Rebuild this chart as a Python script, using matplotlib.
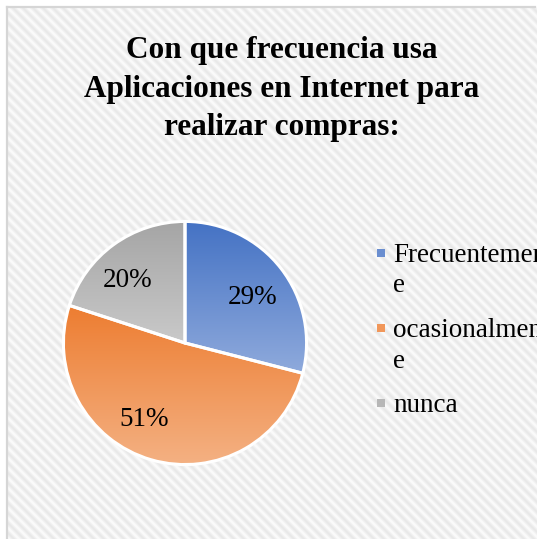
import numpy as np
import matplotlib
matplotlib.use("Agg")
import matplotlib.pyplot as plt
from matplotlib.patches import Rectangle
from matplotlib.colors import LinearSegmentedColormap, to_rgb

# ---- data ----
title = "Con que frecuencia usa\nAplicaciones en Internet para\nrealizar compras:"
categories = ["Frecuentemente", "ocasionalmente", "nunca"]
legend_labels = ["Frecuentement\ne", "ocasionalment\ne", "nunca"]
percentages = [29, 51, 20]
top_colors = ["#4472C4", "#ED7D31", "#A5A5A5"]
bottom_colors = ["#8FAADC", "#F4B183", "#C9C9C9"]

W, H = 537, 539
DPI = 100
fig = plt.figure(figsize=(W / DPI, H / DPI), dpi=DPI)
fig.patch.set_facecolor("white")

def fx(px):
    return px / W

def fy(py):
    return 1 - py / H

# ---- striped background ----
bg = fig.add_axes([fx(7), 0, 1 - fx(7), fy(7)])
bg.set_axis_off()
xs = np.arange(7, W) + 0.5
ys = np.arange(7, H) + 0.5
X, Y = np.meshgrid(xs, ys)
phase = np.cos(2 * np.pi * (X - Y) / 10.0)
val = 0.945 + 0.035 * phase
bg.imshow(val, cmap="gray", vmin=0, vmax=1, aspect="auto",
          extent=[0, 1, 0, 1], origin="upper", interpolation="bilinear")
bg.set_xlim(0, 1)
bg.set_ylim(0, 1)

# border
fig.add_artist(plt.Line2D([fx(7), fx(7)], [0, fy(7)], color="#D6D6D6", lw=1.6,
                          transform=fig.transFigure))
fig.add_artist(plt.Line2D([fx(7), fx(535)], [fy(7), fy(7)], color="#D6D6D6", lw=1.6,
                          transform=fig.transFigure))

# ---- title ----
fig.text(fx(282), fy(89), title, ha="center", va="center", fontsize=22.5,
         fontweight="bold", family="Liberation Serif", linespacing=1.45)

# ---- pie ----
cx, cy, r = 185, 343, 124
ax = fig.add_axes([fx(cx - r), fy(cy + r), fx(2 * r), (2 * r) / H])
ax.set_axis_off()
wedges, texts, autotexts = ax.pie(
    percentages, startangle=90, counterclock=False, radius=1,
    autopct=lambda p: f"{p:.0f}%", pctdistance=0.68,
    wedgeprops=dict(edgecolor="white", linewidth=2.2),
    textprops=dict(fontsize=19.5, family="Liberation Serif", color="black"))

for w, ct, cb in zip(wedges, top_colors, bottom_colors):
    ext = w.get_path().get_extents()
    cmap = LinearSegmentedColormap.from_list("g", [cb, ct])
    grad = np.linspace(0, 1, 256).reshape(-1, 1)
    im = ax.imshow(grad, cmap=cmap, aspect="auto", origin="lower",
                   extent=[ext.x0, ext.x1, ext.y0, ext.y1], zorder=0.5)
    im.set_clip_path(w)
    w.set_facecolor("none")
    w.set_zorder(1)

# label nudges (data units, radius = 1) to mimic the reference placement
label_nudges = [(0.02, -0.04), (-0.15, 0.02), (-0.07, -0.04)]
for t, (dx, dy) in zip(autotexts, label_nudges):
    x0, y0 = t.get_position()
    t.set_position((x0 + dx, y0 + dy))
    t.set_zorder(3)
ax.set_xlim(-1.02, 1.02)
ax.set_ylim(-1.02, 1.02)
ax.set_aspect("equal")

# ---- legend (manual) ----
baseline = 262
for lab, ct, cb in zip(legend_labels, top_colors, bottom_colors):
    mid = np.mean([to_rgb(ct), to_rgb(cb)], axis=0)
    fig.add_artist(Rectangle((fx(377), fy(baseline - 5)), 8 / W, 8 / H,
                             transform=fig.transFigure, facecolor=mid,
                             edgecolor="none"))
    lines = lab.split("\n")
    for i, line in enumerate(lines):
        fig.text(fx(393), fy(baseline + 30.5 * i), line, ha="left", va="baseline",
                 fontsize=19.5, family="Liberation Serif")
    baseline += 30.5 * (len(lines) - 1) + 44.5

fig.savefig("out.png", dpi=DPI)
